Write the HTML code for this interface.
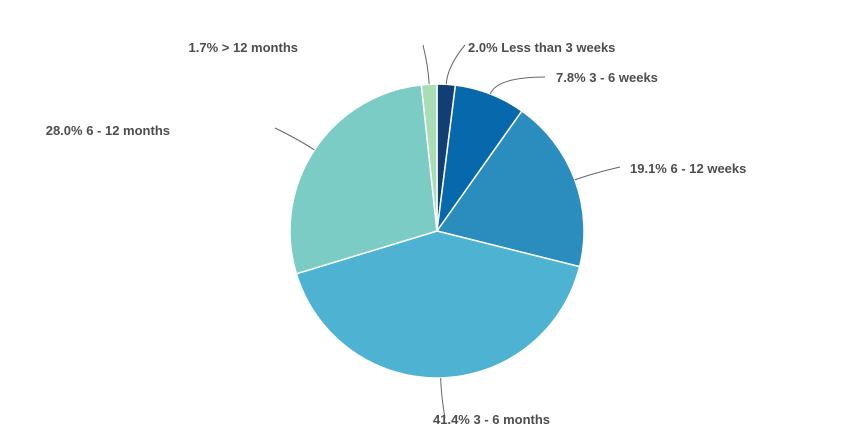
<!DOCTYPE html>
<html><head><meta charset="utf-8">
<style>
html,body{margin:0;padding:0;background:#fff;}
svg{display:block;}
text{font-family:"Liberation Sans",Arial,sans-serif;font-weight:bold;font-size:13px;fill:#4d4d4d;}
</style></head>
<body>
<svg id="chart" width="848" height="443" viewBox="0 0 848 443">
<g id="slices"></g>
<g id="labels"></g>
</svg>
<script>
const categories = ["Less than 3 weeks","3 - 6 weeks","6 - 12 weeks","3 - 6 months","6 - 12 months","> 12 months"];
const values = [2.0, 7.8, 19.1, 41.4, 28.0, 1.7];
const colors = ["#123f73","#0868ac","#2b8cbe","#4eb3d3","#7bccc4","#a8ddb5"];
// layout only: label text anchors and leader end points
const labelLayout = [
  {tx:468, ty:52, anchor:"start", ex:465, ey:45},
  {tx:556, ty:82, anchor:"start", ex:545, ey:77},
  {tx:630, ty:173, anchor:"start", ex:620, ey:167},
  {tx:433, ty:424, anchor:"start", ex:445, ey:418},
  {tx:170, ty:135, anchor:"end", ex:275, ey:128},
  {tx:298, ty:52, anchor:"end", ex:423, ey:45}
];
const cx = 437, cy = 231, r = 147;
const NS = "http://www.w3.org/2000/svg";
const total = values.reduce((a,b)=>a+b,0);
function angleOf(v){ return v/total*2*Math.PI; }
function pt(a, rad){ return [cx + rad*Math.sin(a), cy - rad*Math.cos(a)]; }
const gS = document.getElementById("slices"), gL = document.getElementById("labels");
let acc = 0;
values.forEach((v,i)=>{
  const a0 = angleOf(acc), a1 = angleOf(acc+v);
  acc += v;
  const p0 = pt(a0,r), p1 = pt(a1,r);
  const large = (a1-a0) > Math.PI ? 1 : 0;
  const path = document.createElementNS(NS,"path");
  path.setAttribute("d",`M${cx},${cy} L${p0[0]},${p0[1]} A${r},${r} 0 ${large} 1 ${p1[0]},${p1[1]} Z`);
  path.setAttribute("fill",colors[i]);
  path.setAttribute("stroke","#ffffff");
  path.setAttribute("stroke-width","1.5");
  
  
  gS.appendChild(path);
  const am = (a0+a1)/2;
  const s = pt(am, r), m = pt(am, r+18);
  const L = labelLayout[i];
  const line = document.createElementNS(NS,"path");
  line.setAttribute("d",`M${s[0]},${s[1]} Q${m[0]},${m[1]} ${L.ex},${L.ey}`);
  line.setAttribute("fill","none");
  line.setAttribute("stroke","#666");
  line.setAttribute("stroke-width","1");
  
  
  gL.appendChild(line);
  const t = document.createElementNS(NS,"text");
  t.setAttribute("x",L.tx);
  t.setAttribute("y",L.ty);
  t.setAttribute("text-anchor",L.anchor);
  t.textContent = v.toFixed(1) + "% " + categories[i];
  
  
  gL.appendChild(t);
});
</script>
</body></html>
